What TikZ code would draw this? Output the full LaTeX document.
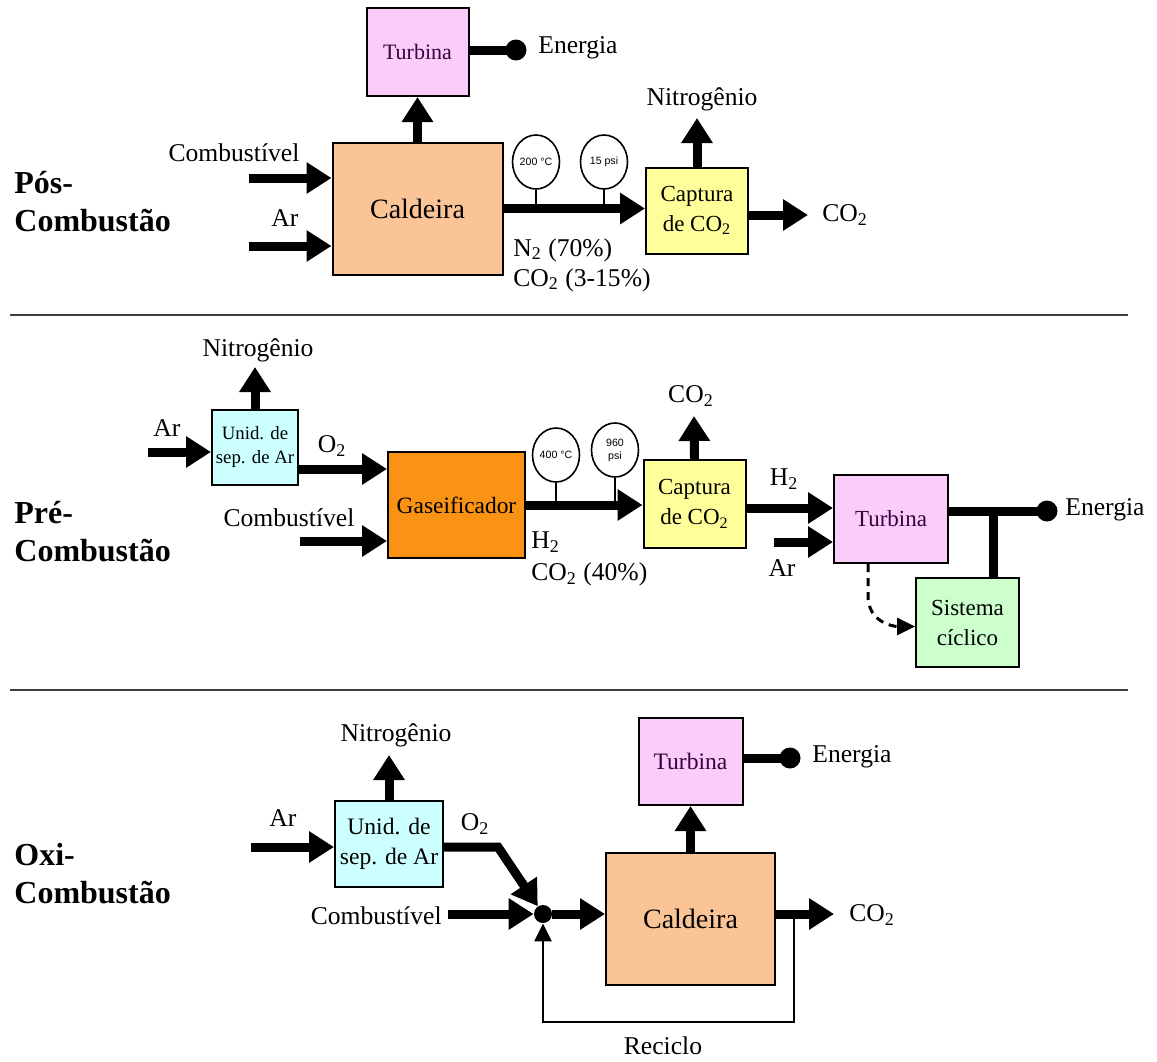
\documentclass[tikz,border=0pt]{standalone}
\usepackage{fontspec}
\setmainfont{Liberation Serif}
\setsansfont{Liberation Sans}
\usepackage{xcolor}
\usepackage{tikz}
\usetikzlibrary{arrows.meta,positioning,shapes.geometric}

\definecolor{turbfill}{RGB}{250,204,250}
\definecolor{turbtext}{RGB}{60,0,60}
\definecolor{caldfill}{RGB}{250,196,150}
\definecolor{captfill}{RGB}{255,255,153}
\definecolor{gasfill}{RGB}{250,146,20}
\definecolor{unidfill}{RGB}{204,255,255}
\definecolor{sisfill}{RGB}{204,255,204}

\begin{document}
\begin{tikzpicture}[x=0.5pt, y=-0.5pt,
    box/.style={draw, line width=1pt, align=center, inner sep=1pt},
    turb/.style={box, fill=turbfill, text=turbtext, minimum width=51pt, minimum height=44pt, font=\fontsize{11}{13}\selectfont},
    cald/.style={box, fill=caldfill, minimum width=85pt, minimum height=66pt, font=\fontsize{14}{16}\selectfont},
    capt/.style={box, fill=captfill, minimum width=51pt, minimum height=43pt, font=\fontsize{11.5}{15}\selectfont},
    unid/.style={box, fill=unidfill},
    gauge/.style={draw, ellipse, fill=white, line width=0.8pt, minimum width=23.5pt, minimum height=27pt, inner sep=0pt, align=center, font=\sffamily\fontsize{5.3}{6.5}\selectfont},
    edot/.style={circle, fill, inner sep=0pt, minimum size=10.5pt},
    lbl/.style={font=\fontsize{12.8}{15}\selectfont, inner sep=0pt},
    sectlbl/.style={font=\bfseries\fontsize{16}{19}\selectfont, align=left, anchor=west, inner sep=0pt},
    flow/.style={line width=4.5pt, -{Triangle[length=12.5pt,width=15pt]}},
    outpow/.style={line width=4.5pt},
    gstem/.style={line width=0.8pt},
    divider/.style={line width=1pt, draw=black!75}
  ]
  \useasboundingbox (0,0) rectangle (1157,1061);

  % ---- Pos-combustao
  \node[sectlbl] (pos) at (14,202) {Pós-\\Combustão};
  \node[turb] (tur1) at (417.5,52) {Turbina};
  \node[cald] (cal1) at (417.5,208.5) {Caldeira};
  \node[capt] (cap1) at (697,210.5) {Captura\\de CO\textsubscript{2}};
  \node[gauge] (g1) at (536,162) {200 °C};
  \node[gauge] (g2) at (604,162) {15 psi};
  \node[edot] (en1) at (516,50) {};
  \node[lbl, anchor=west] (en1t) at (538,48) {Energia};
  \coordinate (comb1) at (249,178);
  \node[lbl] (comb1t) at (234,153) {Combustível};
  \coordinate (ar1) at (249,246);
  \node[lbl] (ar1t) at (285,218) {Ar};
  \coordinate (nit1) at (697,118);
  \node[lbl] (nit1t) at (702,99) {Nitrogênio};
  \coordinate (co1) at (808,215);
  \node[lbl, anchor=west] (co1t) at (822,215) {CO\textsubscript{2}};
  \node[lbl, anchor=west, align=left, font=\fontsize{12.8}{15}\selectfont] (gas1t) at (513,265)
    {N\textsubscript{2} (70\%)\\CO\textsubscript{2} (3-15\%)};

  \draw[flow] (cal1.north) -- (tur1.south);
  \draw[outpow] (tur1.east |- en1) -- (en1.center);
  \draw[flow] (comb1) -- (comb1 -| cal1.west);
  \draw[flow] (ar1) -- (ar1 -| cal1.west);
  \draw[gstem] (g1.south) -- (g1.south |- cal1.east);
  \draw[gstem] (g2.south) -- (g2.south |- cal1.east);
  \draw[flow] (cal1.east) -- (cal1.east -| cap1.west);
  \draw[flow] (cap1.north) -- (nit1);
  \draw[flow] (cap1.east |- co1) -- (co1);

  \draw[divider] (10,315) -- (1128,315);

  % ---- Pre-combustao
  \node[sectlbl] (pre) at (14,532) {Pré-\\Combustão};
  \node[unid, minimum width=43pt, minimum height=37.5pt, font=\fontsize{9.4}{12}\selectfont] (unid2) at (255,447) {Unid. de\\sep. de Ar};
  \node[box, fill=gasfill, minimum width=68.5pt, minimum height=53pt, font=\fontsize{11.7}{14}\selectfont] (gas) at (456.5,505) {Gaseificador};
  \node[capt, minimum height=44pt] (cap2) at (694.5,504) {Captura\\de CO\textsubscript{2}};
  \node[turb, minimum width=57pt, minimum height=44pt, font=\fontsize{11.5}{13}\selectfont] (tur2) at (891,519) {Turbina};
  \node[box, fill=sisfill, minimum width=51.5pt, minimum height=44.5pt, font=\fontsize{11.5}{15}\selectfont] (sis) at (967.5,622.5) {Sistema\\cíclico};
  \node[gauge] (g3) at (556,455) {400 °C};
  \node[gauge] (g4) at (615,450) {960\\psi};
  \coordinate (ar2) at (148,452);
  \node[lbl] (ar2t) at (167,428) {Ar};
  \coordinate (nit2) at (255,367);
  \node[lbl] (nit2t) at (258,350) {Nitrogênio};
  \node[lbl] (o2t) at (332,446) {O\textsubscript{2}};
  \coordinate (comb2) at (300,541);
  \node[lbl] (comb2t) at (289,518) {Combustível};
  \node[lbl, anchor=west, align=left, font=\fontsize{12.8}{16}\selectfont] (gas2t) at (531,559)
    {H\textsubscript{2}\\CO\textsubscript{2} (40\%)};
  \coordinate (co2) at (694,416);
  \node[lbl] (co2t) at (691,396) {CO\textsubscript{2}};
  \node[lbl] (h2t) at (784,479) {H\textsubscript{2}};
  \coordinate (ar2b) at (774,542);
  \node[lbl] (ar2bt) at (782,568) {Ar};
  \node[edot] (en2) at (1047,511) {};
  \coordinate (j2) at (993,511);
  \node[lbl, anchor=west] (en2t) at (1065,510) {Energia};

  \draw[flow] (ar2) -- (ar2 -| unid2.west);
  \draw[flow] (unid2.north) -- (nit2);
  \draw[flow] ([yshift=-11pt]unid2.east) -- ([yshift=-11pt]unid2.east -| gas.west);
  \draw[flow] (comb2) -- (comb2 -| gas.west);
  \draw[gstem] (g3.south) -- (g3.south |- gas.east);
  \draw[gstem] (g4.south) -- (g4.south |- gas.east);
  \draw[flow] (gas.east) -- (gas.east -| cap2.west);
  \draw[flow] (cap2.north) -- (co2);
  \draw[flow] ([yshift=-2pt]cap2.east) -- ([yshift=-2pt]cap2.east -| tur2.west);
  \draw[flow] (ar2b) -- (ar2b -| tur2.west);
  \draw[outpow] (tur2.east |- en2) -- (en2.center);
  \draw[line width=4.5pt] (j2) -- (j2 |- sis.north);
  \draw[line width=1.5pt, dash pattern=on 4pt off 3pt, -{Triangle[length=9pt,width=8.5pt]}]
    ([xshift=-11.5pt]tur2.south) -- ++(0,32) .. controls +(0,26) and +(-22,0) .. ([yshift=-2pt]sis.west);

  \draw[divider] (10,690) -- (1128,690);

  % ---- Oxi-combustao
  \node[sectlbl] (oxi) at (14,874) {Oxi-\\Combustão};
  \node[unid, minimum width=54pt, minimum height=43pt, font=\fontsize{11.8}{15}\selectfont] (unid3) at (389,844) {Unid. de\\sep. de Ar};
  \node[cald, minimum width=84.5pt, minimum height=66pt] (cal3) at (690.5,919) {Caldeira};
  \node[turb, minimum width=52pt, minimum height=43.5pt, font=\fontsize{11.8}{13}\selectfont] (tur3) at (690.5,761.5) {Turbina};
  \node[circle, fill, inner sep=0pt, minimum size=9pt] (mix) at (543,914) {};
  \coordinate (ar3) at (251,847);
  \node[lbl] (ar3t) at (283,818) {Ar};
  \coordinate (nit3) at (389,755);
  \node[lbl] (nit3t) at (396,735) {Nitrogênio};
  \node[lbl] (o2t3) at (475,824) {O\textsubscript{2}};
  \coordinate (o2b) at (498,847);
  \coordinate (comb3) at (448,914);
  \node[lbl, anchor=east] (comb3t) at (442,916) {Combustível};
  \node[edot] (en3) at (790,758) {};
  \node[lbl, anchor=west] (en3t) at (812,757) {Energia};
  \coordinate (co3) at (834,914);
  \node[lbl, anchor=west] (co3t) at (849,915) {CO\textsubscript{2}};
  \coordinate (rec1) at (794,914);
  \coordinate (rec2) at (794,1022);
  \node[lbl] (rect) at (663,1046) {Reciclo};

  \draw[flow] (ar3) -- (ar3 -| unid3.west);
  \draw[flow] (unid3.north) -- (nit3);
  \draw[flow] (unid3.east |- o2b) -- (o2b) -- (mix);
  \draw[flow] (comb3) -- (mix);
  \draw[flow] (mix) -- (mix -| cal3.west);
  \draw[flow] (cal3.north) -- (tur3.south);
  \draw[outpow] (tur3.east |- en3) -- (en3.center);
  \draw[flow] (cal3.east |- co3) -- (co3);
  \draw[line width=1.2pt, -{Triangle[length=9pt,width=8.5pt]}] (rec1) -- (rec2) -- (rec2 -| mix) -- (mix);
\end{tikzpicture}
\end{document}
